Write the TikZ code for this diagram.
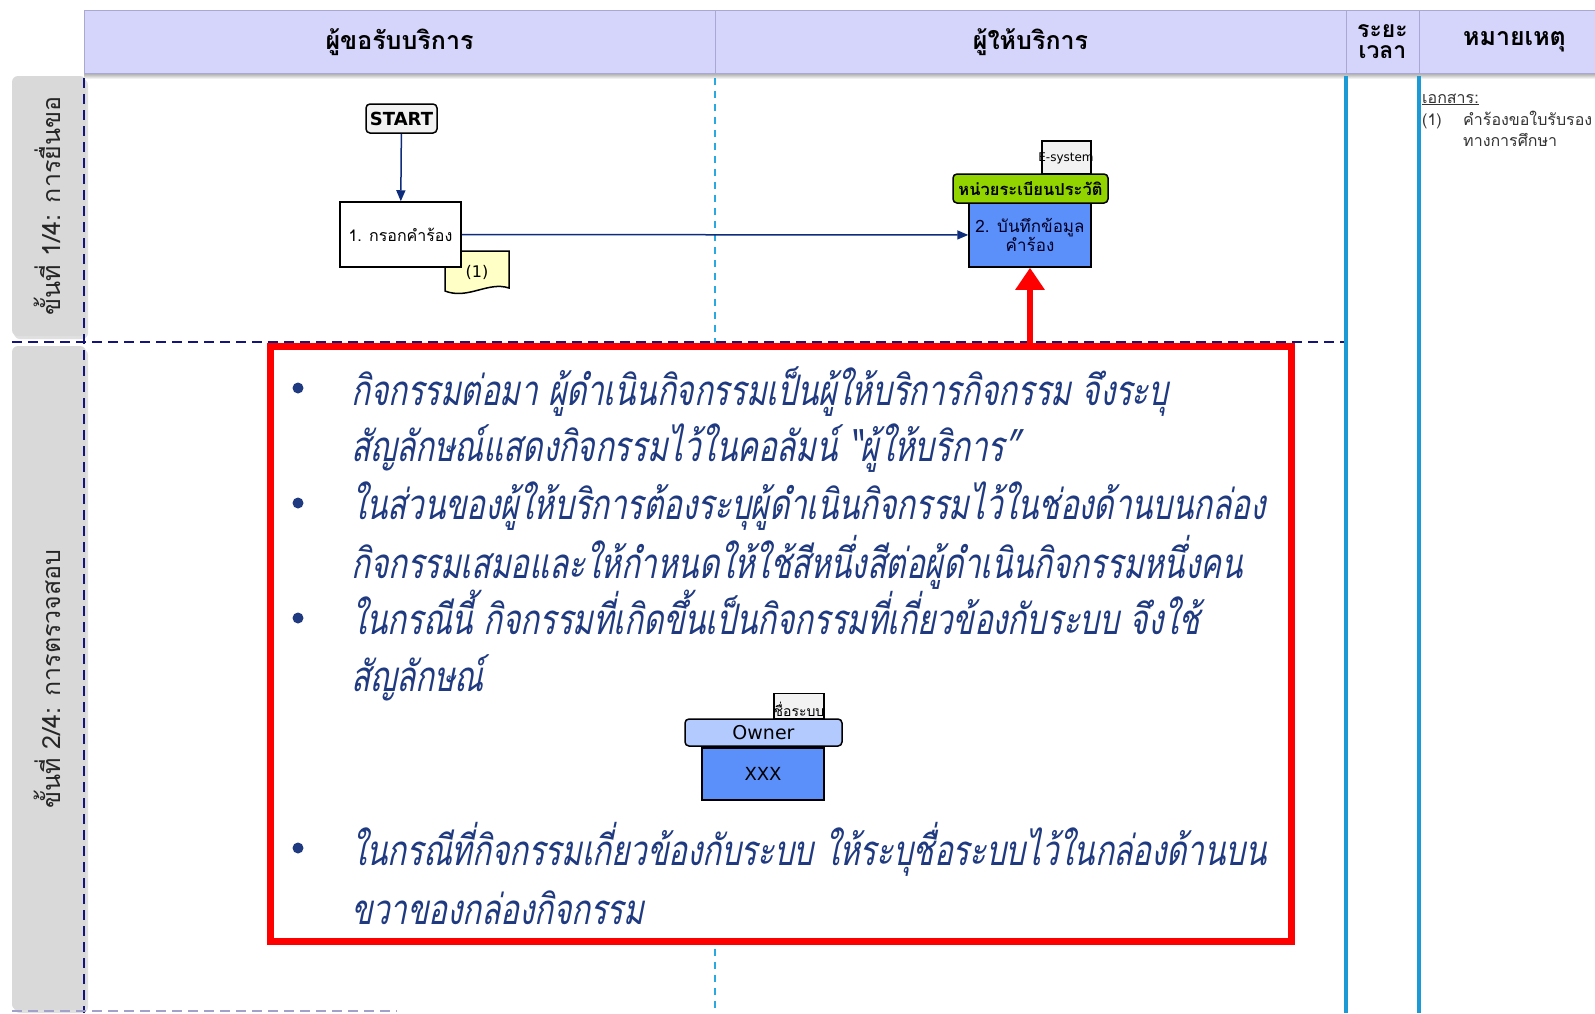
\documentclass[tikz,border=0pt]{standalone}
\usepackage{fontspec}
\usetikzlibrary{arrows.meta}
\setmainfont{DejaVu Sans}
\newfontfamily\thai[Script=Thai]{Loma}
\newfontfamily\thaiit[Script=Thai,FakeSlant=0.2,FakeStretch=0.74]{Loma}
\definecolor{navy}{HTML}{14147A}
\definecolor{cyanl}{HTML}{1C9AD6}
\definecolor{lcyan}{HTML}{2AA8E0}
\definecolor{hdr}{HTML}{D5D5FC}
\definecolor{hdrline}{HTML}{A8A8D0}
\definecolor{tabgray}{HTML}{D9D9D9}
\definecolor{arrowblue}{HTML}{0D2C7C}
\definecolor{actblue}{HTML}{5B8FF9}
\definecolor{ownerblue}{HTML}{B3CAFF}
\definecolor{ownergreen}{HTML}{92D400}
\definecolor{docyel}{HTML}{FFFFC6}
\definecolor{txtnavy}{HTML}{1F3A80}
\definecolor{sysgray}{HTML}{F2F2F2}
\definecolor{notegray}{HTML}{333333}
\tikzset{
  hdrcell/.style={draw=hdrline, line width=1, fill=hdr, font=\thai\bfseries\fontsize{25}{27}\selectfont, inner sep=2},
  tablabel/.style={rotate=90, font=\thai\fontsize{25}{27}\selectfont, text=black!85},
  startbox/.style={draw, line width=1.5, rounded corners=4, fill=sysgray, inner sep=1, minimum width=71, minimum height=29, font=\bfseries\fontsize{18}{19}\selectfont},
  procbox/.style={draw, line width=1.5, fill=white, font=\thai\fontsize{16}{18}\selectfont, inner sep=1},
  actbox/.style={draw, line width=1.5, fill=actblue, inner sep=1},
  ownerbox/.style={draw, line width=1.5, rounded corners=4, inner sep=1},
  sysbox/.style={draw, line width=1.5, fill=sysgray, inner sep=0},
  navyarrow/.style={draw=arrowblue, line width=1.5, -{Triangle[width=9,length=11]}},
  redarrow/.style={draw=red, line width=6, -{Triangle[width=28,length=22]}},
  redbox/.style={draw=red, line width=7, fill=white, inner sep=0},
  bigtxt/.style={anchor=base west, inner sep=0, text=txtnavy, font=\thaiit\fontsize{42}{44}\selectfont},
  notetxt/.style={anchor=base west, inner sep=0, text=notegray, font=\thai\fontsize{16}{18}\selectfont},
}
\begin{document}
\begin{tikzpicture}[x=1pt,y=-1pt]
\useasboundingbox (0,0) rectangle (1595,1013);
\clip (0,0) rectangle (1595,1013);
\fill[white] (0,0) rectangle (1595,1013);
% tabs
\fill[black!12, rounded corners=6] (14,79) rectangle (88,339);
\fill[tabgray, rounded corners=6] (12,76) rectangle (86,336);
\fill[black!12, rounded corners=6] (14,349) rectangle (88,1013);
\fill[tabgray, rounded corners=6] (12,346) rectangle (86,1010);
\node[tablabel] (l1) at (47,206) {ขั้นที่ 1/4: การยื่นขอ};
\node[tablabel] (l2) at (47,679) {ขั้นที่ 2/4: การตรวจสอบ};
% header
\shade[top color=black!35, bottom color=white] (84,73) rectangle (1595,79);
\node[hdrcell, minimum width=631, minimum height=63] (h1) at (399.5,42) {\raisebox{-3pt}{ผู้ขอรับบริการ}};
\node[hdrcell, minimum width=631, minimum height=63] (h2) at (1030.5,42) {\raisebox{-3pt}{ผู้ให้บริการ}};
\node[hdrcell, minimum width=73, minimum height=63, align=center, font=\thai\bfseries\fontsize{23}{21}\selectfont] (h3) at (1382.5,42) {ระยะ\\เวลา};
\node[hdrcell, minimum width=191, minimum height=63] (h4) at (1514.5,42) {\raisebox{-3pt}{หมายเหตุ}};
% lane lines
\draw[lcyan, line width=1.5, dash pattern=on 7 off 6] (715,78) -- (715,1010);
\draw[navy, line width=2.5, dash pattern=on 10 off 6] (84,78) -- (84,1013);
\draw[navy, line width=2.5, dash pattern=on 10 off 6] (12,342) -- (1346,342);
\draw[navy!40, line width=2.5, dash pattern=on 10 off 6] (12,1011) -- (397,1011);
\draw[cyanl, line width=3.5] (1346,76) -- (1346,1013);
\draw[cyanl, line width=3.5] (1419,76) -- (1419,1013);
% notes
\node[notetxt] (n0) at (1422,103) {\underline{เอกสาร:}};
\node[notetxt] (n1) at (1422,125) {(1)};
\node[notetxt] (n2) at (1463,125) {คำร้องขอใบรับรอง};
\node[notetxt] (n3) at (1463,146) {ทางการศึกษา};
% step 1
\node[startbox] (start) at (401.5,118.5) {START};
\draw[draw=black, line width=1.5, fill=docyel] (445,251) -- (509,251) -- (509,288) .. controls (488,281) and (468,300) .. (445,291) -- cycle;
\node[font=\fontsize{16}{18}\selectfont, inner sep=0] (d1) at (477,272) {(1)};
\node[procbox, minimum width=121, minimum height=65] (b1) at (400.5,234.5) {1. กรอกคำร้อง};
\node[sysbox, minimum width=49, minimum height=33] (es) at (1066.5,157.5) {};
\node[inner sep=0, font=\fontsize{12}{14}\selectfont] (est) at (1066,158) {E-system};
\node[actbox, minimum width=122, minimum height=64, align=center, text=black!85!blue, font=\thai\fontsize{17}{16}\selectfont] (b2) at (1030,235) {2. บันทึกข้อมูล\\คำร้อง};
\node[ownerbox, fill=ownergreen, minimum width=155, minimum height=29, font=\thai\bfseries\fontsize{16.5}{17}\selectfont] (g) at (1030.5,188.5) {หน่วยระเบียนประวัติ};
\draw[navyarrow] (start) -- (b1);
\draw[navyarrow] (b1) -- (b2);
% red box
\node[redbox, minimum width=1021, minimum height=595] (rb) at (781,644) {};
\draw[redarrow] (b2.south |- rb.north) -- (b2.south);
% bullets
\fill[txtnavy] (298,388) circle (5.5);
\fill[txtnavy] (298,503) circle (5.5);
\fill[txtnavy] (298,618) circle (5.5);
\fill[txtnavy] (298,848) circle (5.5);
\node[bigtxt] (t1) at (351,405) {กิจกรรมต่อมา ผู้ดำเนินกิจกรรมเป็นผู้ให้บริการกิจกรรม จึงระบุ};
\node[bigtxt] (t2) at (351,461) {สัญลักษณ์แสดงกิจกรรมไว้ในคอลัมน์ “ผู้ให้บริการ”};
\node[bigtxt] (t3) at (351,519) {ในส่วนของผู้ให้บริการต้องระบุผู้ดำเนินกิจกรรมไว้ในช่องด้านบนกล่อง};
\node[bigtxt] (t4) at (351,578) {กิจกรรมเสมอและให้กำหนดให้ใช้สีหนึ่งสีต่อผู้ดำเนินกิจกรรมหนึ่งคน};
\node[bigtxt] (t5) at (351,634) {ในกรณีนี้ กิจกรรมที่เกิดขึ้นเป็นกิจกรรมที่เกี่ยวข้องกับระบบ จึงใช้};
\node[bigtxt] (t6) at (351,691) {สัญลักษณ์};
\node[bigtxt] (t7) at (351,865) {ในกรณีที่กิจกรรมเกี่ยวข้องกับระบบ ให้ระบุชื่อระบบไว้ในกล่องด้านบน};
\node[bigtxt] (t8) at (351,924) {ขวาของกล่องกิจกรรม};
% owner symbol
\node[sysbox, minimum width=50, minimum height=25] (sn) at (799,706) {};
\node[inner sep=0, font=\thai\fontsize{14}{15}\selectfont] (snt) at (799,709) {ชื่อระบบ};
\node[actbox, minimum width=122, minimum height=52, font=\fontsize{18}{20}\selectfont] (xx) at (763,774) {XXX};
\node[ownerbox, fill=ownerblue, minimum width=157, minimum height=27, font=\fontsize{19}{20}\selectfont] (ow) at (763.5,732.5) {Owner};
\end{tikzpicture}
\end{document}
